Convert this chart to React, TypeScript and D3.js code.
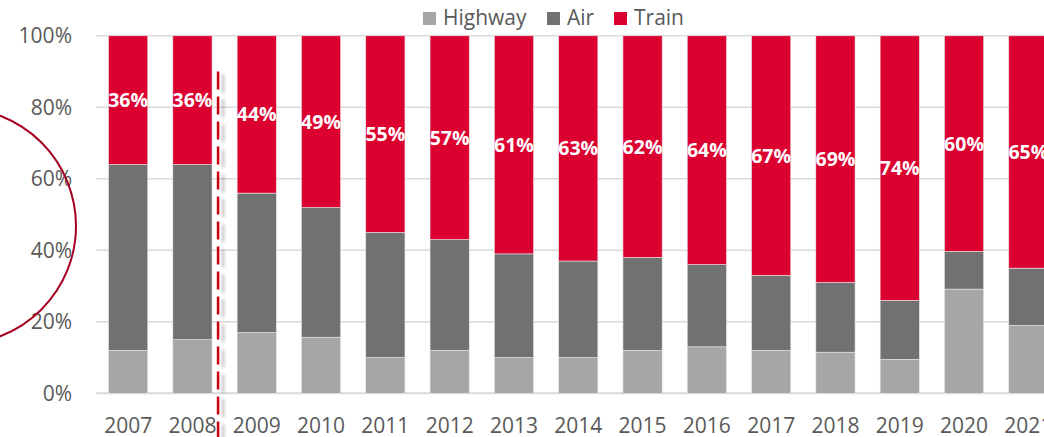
// stacked 100% bar chart of transport mode share
import * as d3 from "d3";
import { useRef, useEffect } from "react";

// categories and series values
const years = ["2007", "2008", "2009", "2010", "2011", "2012", "2013", "2014", "2015", "2016", "2017", "2018", "2019", "2020", "2021"];
const highway = [12, 15, 17, 16, 10, 12, 10, 10, 12, 13, 12, 11.5, 9.5, 29, 19];
const air = [52, 49, 39, 37, 35, 31, 29, 27, 26, 23, 21, 19.5, 16.5, 10.5, 16];
const train = [36, 36, 44, 49, 55, 57, 61, 63, 62, 64, 67, 69, 74, 60, 65];
const yTicks = [0, 0.2, 0.4, 0.6, 0.8, 1];

const seriesKeys = ["Highway", "Air", "Train"];
const colors: Record<string, string> = { Highway: "#a6a6a6", Air: "#717171", Train: "#dc0030" };

const W = 1044;
const H = 437;
const FONT = "'Open Sans', sans-serif";

export default function App() {
    const svgRef = useRef<SVGSVGElement>(null);

    useEffect(() => {
        const svg = d3.select(svgRef.current);
        svg.selectAll("*").remove();

        // table built from the arrays
        const rows = years.map((yr, i) => ({ year: yr, Highway: highway[i], Air: air[i], Train: train[i] }));
        const stacked = d3.stack<any>().keys(seriesKeys).offset(d3.stackOffsetExpand)(rows);

        const x = d3.scaleBand().domain(years).range([96, 1060.5]).paddingInner(0.39).paddingOuter(0.195);
        const y = d3.scaleLinear().domain([0, 1]).range([393.3, 35.8]);

        // drop shadow for the dashed divider (user space, the line has no width)
        const defs = svg.append("defs");
        const f = defs.append("filter").attr("id", "shadow").attr("filterUnits", "userSpaceOnUse")
            .attr("x", 0).attr("y", 0).attr("width", W).attr("height", H);
        f.append("feDropShadow").attr("dx", 5).attr("dy", 3).attr("stdDeviation", 1.8).attr("flood-color", "#000").attr("flood-opacity", 0.25);

        // gridlines
        svg.append("g").selectAll("line").data(yTicks).join("line")
            .attr("x1", x.range()[0]).attr("x2", W)
            .attr("y1", d => y(d)).attr("y2", d => y(d))
            .attr("stroke", "#d9d9d9").attr("stroke-width", d => (d === 0 ? 2 : 1.5));

        // y tick labels
        svg.append("g").selectAll("text").data(yTicks).join("text")
            .attr("x", 72).attr("y", d => y(d)).attr("dy", "0.36em")
            .attr("text-anchor", "end").attr("fill", "#595959")
            .style("font-family", FONT).style("font-size", "21px")
            .text(d => `${Math.round(d * 100)}%`);

        // stacked bars
        svg.append("g").selectAll("g").data(stacked).join("g")
            .attr("fill", s => colors[s.key])
            .selectAll("rect").data(s => s).join("rect")
            .attr("x", d => x(d.data.year)!)
            .attr("width", x.bandwidth())
            .attr("y", d => y(d[1]))
            .attr("height", d => y(d[0]) - y(d[1]))
            .attr("stroke", "#e8e8e8").attr("stroke-width", 0.6);

        // train share labels in the middle of the red segment
        const trainLayer = stacked[2];
        svg.append("g").selectAll("text").data(trainLayer).join("text")
            .attr("x", d => x(d.data.year)! + x.bandwidth() / 2)
            .attr("y", d => y((d[0] + d[1]) / 2)).attr("dy", "0.36em")
            .attr("text-anchor", "middle").attr("fill", "#fff")
            .style("font-family", FONT).style("font-weight", "700").style("font-size", "19.5px")
            .text(d => `${d.data.Train}%`);

        // x tick labels
        svg.append("g").selectAll("text").data(years).join("text")
            .attr("x", d => x(d)! + x.bandwidth() / 2).attr("y", 425).attr("dy", "0.36em")
            .attr("text-anchor", "middle").attr("fill", "#595959")
            .style("font-family", FONT).style("font-size", "21px")
            .text(d => d);

        // dashed divider between 2008 and 2009
        const dx = x("2008")! + x.bandwidth() + 6;
        svg.append("line")
            .attr("x1", dx).attr("x2", dx).attr("y1", y(0.9)).attr("y2", H + 5)
            .attr("stroke", "#c8000f").attr("stroke-width", 2.5).attr("stroke-dasharray", "18 7")
            .attr("filter", "url(#shadow)");

        // circle annotation on the left
        svg.append("circle")
            .attr("cx", -42).attr("cy", 226).attr("r", 118)
            .attr("fill", "none").attr("stroke", "#a50021").attr("stroke-width", 2);

        // legend
        const legendItems = [
            { key: "Highway", x: 423 },
            { key: "Air", x: 547 },
            { key: "Train", x: 614 },
        ];
        const lg = svg.append("g").selectAll("g").data(legendItems).join("g")
            .attr("transform", d => `translate(${d.x},12)`);
        lg.append("rect").attr("width", 13).attr("height", 13).attr("fill", d => colors[d.key]);
        lg.append("text").attr("x", 20).attr("y", 13)
            .attr("fill", "#595959").style("font-family", FONT).style("font-size", "21px")
            .text(d => d.key);
    }, []);

    return (
        <svg ref={svgRef} width={W} height={H} style={{ position: "absolute", left: 0, top: 0, background: "#fff" }} />
    );
}
